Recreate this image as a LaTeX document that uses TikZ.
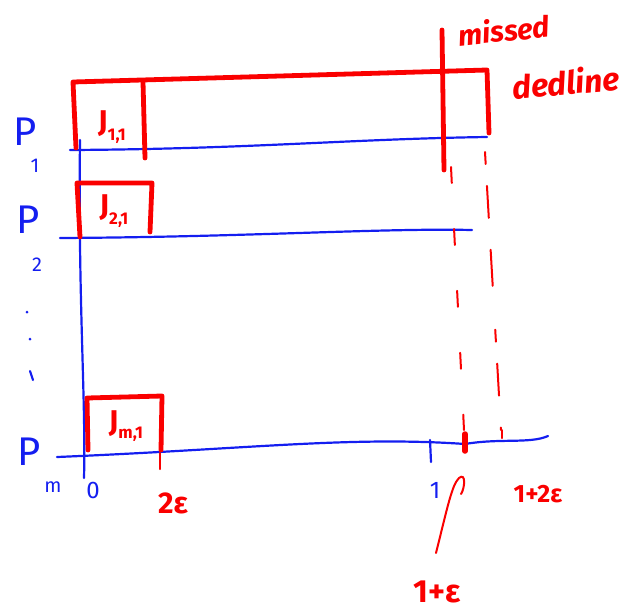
\documentclass[tikz,border=0pt]{standalone}
\usepackage{fontspec}
\setmainfont{Fira Sans}
\definecolor{pblue}{RGB}{20,30,240}
\definecolor{pred}{RGB}{250,0,0}
\newcommand{\jsubf}{\fontsize{17}{17}\selectfont\bfseries}
\begin{document}
\begin{tikzpicture}[x=1pt,y=-1pt,
  bl/.style={draw=pblue,line width=2.2pt,line cap=round,line join=round},
  rd/.style={draw=pred,line width=4.8pt,line cap=round,line join=round},
  rdthin/.style={draw=pred,line width=2pt,line cap=round},
  rdash/.style={draw=pred,line width=2pt,line cap=round},
  ptxt/.style={text=pblue,font=\fontsize{40}{40}\selectfont,inner sep=0pt},
  psub/.style={text=pblue,font=\fontsize{20}{20}\selectfont,inner sep=0pt},
  btxt/.style={text=pblue,font=\fontsize{24}{24}\selectfont,inner sep=0pt},
  rtxt/.style={text=pred,font=\fontsize{30}{30}\selectfont\bfseries,inner sep=0pt},
  jtxt/.style={text=pred,font=\fontsize{30}{30}\selectfont\bfseries,inner sep=0pt},
  dotn/.style={circle,fill=pblue,inner sep=0pt,minimum size=3pt}]
\useasboundingbox (0,0) rectangle (626,611);

% coordinates
\coordinate (axT) at (80,140);
\coordinate (axB) at (84,478);
\coordinate (l1a) at (70,150);
\coordinate (l1b) at (487,137);
\coordinate (l2a) at (60,238);
\coordinate (l2b) at (472,230);
\coordinate (lma) at (57,457);
\coordinate (lmc) at (465,444);
\coordinate (lmb) at (548,436);
\coordinate (b1a) at (76,148);
\coordinate (b1b) at (73,82);
\coordinate (b1c) at (487,70);
\coordinate (b1d) at (489,133);
\coordinate (d1a) at (143,82);
\coordinate (d1b) at (145,158);
\coordinate (mdT) at (442,30);
\coordinate (mdB) at (444,170);
\coordinate (b2a) at (80,237);
\coordinate (b2b) at (77,183);
\coordinate (b2c) at (152,183);
\coordinate (b2d) at (150,232);
\coordinate (bma) at (88,450);
\coordinate (bmb) at (87,398);
\coordinate (bmc) at (162,396);
\coordinate (bmd) at (161,450);
\coordinate (t2eA) at (160,453);
\coordinate (t2eB) at (160,469);
\coordinate (t1A) at (430,440);
\coordinate (t1B) at (431,462);
\coordinate (teA) at (465,434);
\coordinate (teB) at (465,451);
\coordinate (t2A) at (502,430);
\coordinate (t2B) at (502,438);
\coordinate (daA) at (451,167);
\coordinate (daB) at (464,430);
\coordinate (dbA) at (485,152);
\coordinate (dbB) at (501,430);
\coordinate (cvA) at (436,553);
\coordinate (cvB) at (461,494);

% blue axis and rows
\draw[bl] (axT) .. controls (78,300) and (86,400) .. (axB);
\draw[bl] (l1a) .. controls (250,149) and (350,139) .. (l1b);
\draw[bl] (l2a) .. controls (250,237) and (380,228) .. (l2b);
\draw[bl] (lma) .. controls (250,449) and (350,436) .. (lmc) .. controls (500,438) and (530,444) .. (lmb);

% red boxes
\draw[rd] (b1a) -- (b1b) -- (b1c) -- (b1d);
\draw[rd] (d1a) -- (d1b);
\draw[rd] (mdT) -- (mdB);
\draw[rd] (b2a) -- (b2b) -- (b2c) -- (b2d);
\draw[rd] (bma) -- (bmb) -- (bmc) -- (bmd);

% ticks
\draw[rdthin] (t2eA) -- (t2eB);
\draw[bl] (t1A) -- (t1B);
\draw[draw=pred,line width=5.5pt,line cap=round] (teA) -- (teB);
\draw[rdthin] (t2A) -- (t2B);

% dashed deadlines
\draw[rdash,dash pattern=on 16pt off 46pt] (daA) -- (daB);
\draw[rdash,dash pattern=on 12pt off 22pt on 32pt off 32pt on 36pt off 44pt] (dbA) -- (dbB);

% pointer curve
\draw[rdthin] (cvA) .. controls (448,505) and (452,485) .. (459,478) .. controls (466,472) and (465,488) .. (cvB);

% labels
\node[ptxt] (p1) at (25,132) {P};
\node[psub] (p1s) at (35,166) {1};
\node[ptxt] (p2) at (28,220) {P};
\node[psub] (p2s) at (37,265) {2};
\node[ptxt] (pm) at (29,452) {P};
\node[psub] (pms) at (53,487) {m};
\node[dotn] (dt1) at (27,312) {};
\node[dotn] (dt2) at (30,339) {};
\draw[bl] (30,371) -- (33,380);

\node[jtxt] (j11) at (112,127) {J\raisebox{-9pt}{\jsubf 1,1}};
\node[jtxt] (j21) at (114,211) {J\raisebox{-9pt}{\jsubf 2,1}};
\node[jtxt] (jm1) at (126,426) {J\raisebox{-7pt}{\jsubf m,1}};

\node[btxt] (l0) at (93,490) {0};
\node[btxt] (l1) at (435,490) {1};
\node[rtxt] (l2e) at (173,503) {2ε};
\node[rtxt,font=\fontsize{25}{25}\selectfont\bfseries] (l12e) at (538,494) {1+2ε};
\node[rtxt,font=\fontsize{32}{32}\selectfont\bfseries] (l1e) at (437,592) {1+ε};
\node[rtxt,font=\fontsize{29}{29}\selectfont\bfseries\itshape,rotate=6] (miss) at (504,30) {missed};
\node[rtxt,font=\fontsize{32}{32}\selectfont\bfseries\itshape,rotate=5] (dead) at (566,82) {dedline};
\end{tikzpicture}
\end{document}
